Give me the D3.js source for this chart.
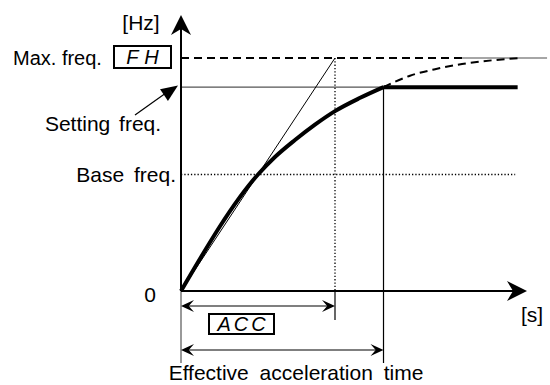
<!DOCTYPE html>
<html><head><meta charset="utf-8">
<script src="https://cdn.jsdelivr.net/npm/d3@7"></script>
<style>
html,body{margin:0;padding:0;background:#fff;}
svg{display:block;}
text{font-family:"Liberation Sans",Arial,sans-serif;fill:#000;}
</style></head>
<body>
<svg id="c" width="550" height="385"></svg>
<script>
// ---- data ----
const freqLevelNames = ["Max. freq.", "Setting freq.", "Base freq."];
const freqLevelValues = [100, 87.5, 50];
const accelTimeNames = ["ACC", "Effective acceleration time"];
const accelTimeValues = [10, 13.15];
const accelCurveTime = [0, 5.0, 6.1, 7.4, 8.7, 10, 11.6, 13.15];
const accelCurveFreq = [0, 50, 57.5, 64.8, 71.4, 77.2, 82.8, 87.5];
const limitCurveTime = [13.15, 14.87, 16.5, 18.25, 20.2, 22.08];
const limitCurveFreq = [87.5, 92.4, 95.2, 97.4, 99.0, 100];
const steadyEndTime = 21.86;
const axisLabels = ["[Hz]", "[s]", "0"];
const panelCodes = ["FH", "ACC"];

// ---- scales ----
const x = d3.scaleLinear().domain([0, 10]).range([181, 335]);
const y = d3.scaleLinear().domain([0, 100]).range([291, 58]);
const xMax = x.invert(527), yTop = y.invert(15);

const svg = d3.select("#c");
const g = svg.append("g");

function arrowHead(tipX, tipY, angle, len, half, notch) {
  const p = d3.path();
  p.moveTo(0, 0); p.lineTo(-len, -half); p.lineTo(-len * notch, 0); p.lineTo(-len, half); p.closePath();
  g.append("path").attr("d", p.toString())
    .attr("transform", `translate(${tipX},${tipY}) rotate(${angle})`)
    .attr("fill", "#000");
}

const [fMax, fSet, fBase] = freqLevelValues;
const [tAcc, tEff] = accelTimeValues;

// reference lines
g.append("line").attr("x1", x(0)).attr("x2", x(18.25)).attr("y1", y(fMax)).attr("y2", y(fMax))
  .attr("stroke", "#000").attr("stroke-width", 2).attr("stroke-dasharray", "8,5");
g.append("line").attr("x1", x(18.25)).attr("x2", x(23.77)).attr("y1", y(fMax)).attr("y2", y(fMax))
  .attr("stroke", "#888").attr("stroke-width", 1.3);
g.append("line").attr("x1", x(0)).attr("x2", x(tEff)).attr("y1", y(fSet)).attr("y2", y(fSet))
  .attr("stroke", "#555").attr("stroke-width", 1.3);
g.append("line").attr("x1", x(0)).attr("x2", x(21.7)).attr("y1", y(fBase)).attr("y2", y(fBase))
  .attr("stroke", "#000").attr("stroke-width", 1.3).attr("stroke-dasharray", "1.3,2");
g.append("line").attr("x1", x(tAcc)).attr("x2", x(tAcc)).attr("y1", y(fMax)).attr("y2", y(0))
  .attr("stroke", "#000").attr("stroke-width", 1.3).attr("stroke-dasharray", "1.3,2");
// tangent thin line
g.append("line").attr("x1", x(0)).attr("y1", y(0)).attr("x2", x(tAcc)).attr("y2", y(fMax))
  .attr("stroke", "#000").attr("stroke-width", 1);
// effective time vertical
g.append("line").attr("x1", x(tEff)).attr("x2", x(tEff)).attr("y1", y(fSet)).attr("y2", 363)
  .attr("stroke", "#000").attr("stroke-width", 1.2);
// acc tick
g.append("line").attr("x1", x(tAcc)).attr("x2", x(tAcc)).attr("y1", y(0)).attr("y2", 320)
  .attr("stroke", "#000").attr("stroke-width", 1.2);
// y axis extension below origin
g.append("line").attr("x1", x(0)).attr("x2", x(0)).attr("y1", y(0)).attr("y2", 363)
  .attr("stroke", "#555").attr("stroke-width", 1.2);

// limit (dashed) curve
const line = d3.line().x(d => x(d[0])).y(d => y(d[1])).curve(d3.curveMonotoneX);
g.append("path").attr("d", line(limitCurveTime.map((t, i) => [t, limitCurveFreq[i]])))
  .attr("fill", "none").attr("stroke", "#000").attr("stroke-width", 2).attr("stroke-dasharray", "8,5");
// accel curve (thick)
g.append("path").attr("d", line(accelCurveTime.map((t, i) => [t, accelCurveFreq[i]])))
  .attr("fill", "none").attr("stroke", "#000").attr("stroke-width", 4);
g.append("line").attr("x1", x(tEff)).attr("x2", x(steadyEndTime)).attr("y1", y(fSet)).attr("y2", y(fSet))
  .attr("stroke", "#000").attr("stroke-width", 4);

// axes
g.append("line").attr("x1", x(0)).attr("x2", x(xMax) - 10).attr("y1", y(0)).attr("y2", y(0))
  .attr("stroke", "#000").attr("stroke-width", 2);
arrowHead(x(xMax), y(0), 0, 20, 10, 0.7);
g.append("line").attr("x1", x(0)).attr("x2", x(0)).attr("y1", y(0)).attr("y2", y(yTop) + 10)
  .attr("stroke", "#000").attr("stroke-width", 2);
arrowHead(x(0), y(yTop), -90, 20, 10, 0.7);

// dimension arrows
[[tAcc, 306], [tEff, 350]].forEach(([t, yy]) => {
  g.append("line").attr("x1", x(0) + 4).attr("x2", x(t) - 4).attr("y1", yy).attr("y2", yy)
    .attr("stroke", "#000").attr("stroke-width", 1.2);
  arrowHead(x(0), yy, 180, 13, 6, 0.6);
  arrowHead(x(t), yy, 0, 13, 6, 0.6);
});

// setting freq pointer arrow
g.append("line").attr("x1", 135).attr("y1", 115).attr("x2", 168).attr("y2", 91.5)
  .attr("stroke", "#000").attr("stroke-width", 1.2);
arrowHead(178, 85.5, Math.atan2(85.5 - 115, 178 - 135) * 180 / Math.PI, 17, 7, 1);

// labels
function label(txt, xx, yy, anchor, fs, ws) {
  return g.append("text").attr("x", xx).attr("y", yy).attr("text-anchor", anchor || "start")
    .attr("font-size", fs).attr("word-spacing", ws || 0).text(txt);
}
label(axisLabels[0], 141, 30, "middle", 21);
label(freqLevelNames[0], 13, 65, "start", 20, 0);
label(freqLevelNames[1], 103, 131, "middle", 21, 3);
label(freqLevelNames[2], 176, 182, "end", 21, 4);
label(axisLabels[2], 150, 302, "middle", 21);
label(axisLabels[1], 521, 322, "start", 21);
label(accelTimeNames[1], 296, 380, "middle", 21, 5);

// panel code boxes
function codeBox(txt, bx, by, bw, bh, ls) {
  g.append("rect").attr("x", bx).attr("y", by).attr("width", bw).attr("height", bh)
    .attr("fill", "#fff").attr("stroke", "#000").attr("stroke-width", 2);
  g.append("text").attr("x", bx + bw / 2 + ls / 2).attr("y", by + bh / 2 + 7).attr("text-anchor", "middle")
    .attr("font-size", 20).attr("font-style", "italic").attr("letter-spacing", ls)
    .text(txt);
}
codeBox(panelCodes[0], 114, 46, 57, 22, 6);
codeBox(panelCodes[1], 209, 314, 65, 20, 3);
</script>
</body></html>
